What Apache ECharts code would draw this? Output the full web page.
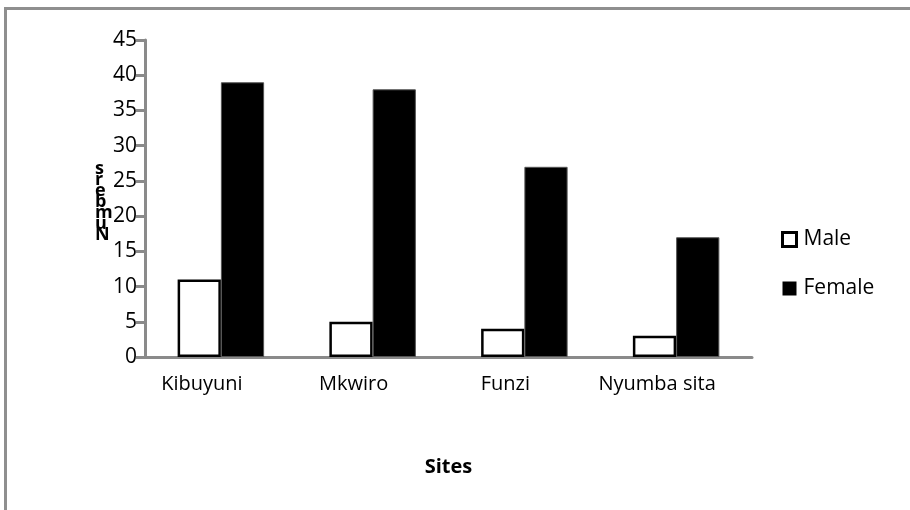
<!DOCTYPE html>
<html>
<head>
<meta charset="utf-8">
<script src="https://cdn.jsdelivr.net/npm/echarts@6/dist/echarts.min.js"></script>
<style>
  html, body { margin: 0; padding: 0; background: #fff; }
  #chart { width: 910px; height: 510px; }
</style>
</head>
<body>
<div id="chart"></div>
<script>
// Respondents by site and sex
const sites = ['Kibuyuni', 'Mkwiro', 'Funzi', 'Nyumba sita'];
const maleCounts = [11, 5, 4, 3];
const femaleCounts = [39, 38, 27, 17];
const yMin = 0, yMax = 45, yStep = 5;

const FONT = '"Open Sans", Lato, sans-serif';
const AXIS_GREY = '#8a8a8a';

const chart = echarts.init(document.getElementById('chart'));

chart.setOption({
  animation: false,
  backgroundColor: '#fff',
  grid: { left: 145, right: 158, top: 40, bottom: 153 },
  legend: {
    orient: 'vertical',
    left: 776,
    top: 224,
    itemGap: 28,
    itemWidth: 14,
    itemHeight: 14,
    icon: 'rect',
    textStyle: { fontFamily: FONT, fontSize: 21, color: '#000', padding: [0, 0, 0, 2] },
    data: [
      { name: 'Male', itemStyle: { color: '#fff', borderColor: '#000', borderWidth: 3 } },
      { name: 'Female', itemStyle: { color: '#000', borderColor: '#000', borderWidth: 0 } }
    ]
  },
  xAxis: {
    type: 'category',
    data: sites,
    name: 'Sites',
    nameLocation: 'middle',
    nameGap: 100,
    nameTextStyle: { fontFamily: FONT, fontSize: 20, fontWeight: 'bold', color: '#000' },
    axisLine: { lineStyle: { color: AXIS_GREY, width: 3 } },
    axisTick: { show: false },
    axisLabel: {
      interval: 0,
      hideOverlap: false,
      fontFamily: FONT,
      fontSize: 20,
      color: '#000',
      margin: 17,
      padding: [0, 38, 0, 0]
    }
  },
  yAxis: {
    type: 'value',
    min: yMin,
    max: yMax,
    interval: yStep,
    splitLine: { show: false },
    axisLine: { show: true, lineStyle: { color: AXIS_GREY, width: 3 } },
    axisTick: { show: true, length: 9, lineStyle: { color: AXIS_GREY, width: 3 } },
    axisLabel: { fontFamily: FONT, fontSize: 21, color: '#000', margin: 8 }
  },
  series: [
    {
      name: 'Male',
      type: 'bar',
      data: maleCounts,
      barGap: '0%',
      barCategoryGap: '43%',
      itemStyle: { color: '#fff', borderColor: '#000', borderWidth: 2.5 }
    },
    {
      name: 'Female',
      type: 'bar',
      data: femaleCounts,
      itemStyle: { color: '#000', borderColor: '#555', borderWidth: 1 }
    }
  ],
  graphic: [
    {
      type: 'rect',
      silent: true,
      shape: { x: 5.5, y: 8.5, width: 920, height: 520 },
      style: { fill: 'none', stroke: '#8f8f8f', lineWidth: 3 }
    },
    {
      type: 'text',
      silent: true,
      left: 95,
      top: 160,
      style: {
        text: 's\nr\ne\nb\nm\nu\nN',
        fontFamily: FONT,
        fontSize: 18,
        fontWeight: 'bold',
        lineHeight: 11,
        fill: '#000',
        align: 'center'
      }
    }
  ]
});
</script>
</body>
</html>
